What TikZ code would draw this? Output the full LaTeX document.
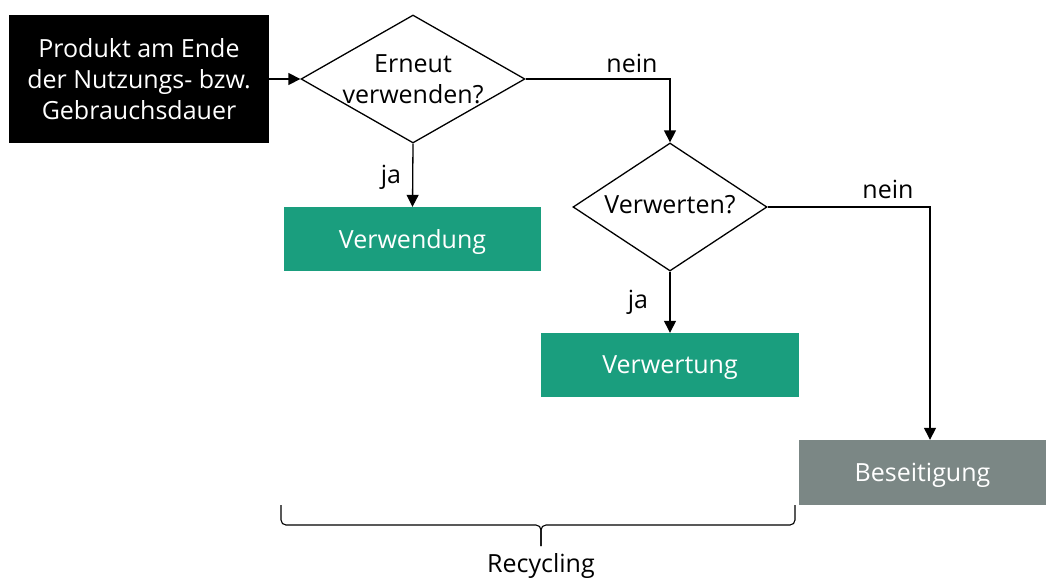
\documentclass[tikz,border=0pt]{standalone}
\usepackage{fontspec}
\setmainfont{Open Sans}
\usetikzlibrary{shapes.geometric,arrows.meta}
\definecolor{teal1}{HTML}{1A9E7E}
\definecolor{gray1}{HTML}{7B8785}
\begin{document}
\begin{tikzpicture}[x=1pt,y=-1pt,
  every node/.style={font=\fontsize{25}{31}\selectfont},
  box/.style={rectangle,inner sep=0pt,text=white,align=center},
  onebox/.style={box,text depth=0pt},
  dia/.style={diamond,draw=black,line width=1.3pt,inner sep=0pt},
  lbl/.style={inner sep=0pt,align=center},
  conn/.style={line width=1.3pt,-{Triangle[length=12pt,width=12pt]}},
  bracestyle/.style={line width=1.1pt,rounded corners=5pt}]
\useasboundingbox (0,0) rectangle (1046,579);
\node[box,fill=black,minimum width=260pt,minimum height=128pt] (start) at (139,79) {Produkt am Ende\\der Nutzungs- bzw.\\Gebrauchsdauer};
\node[dia,minimum width=224pt,minimum height=128pt] (d1) at (413,79) {};
\node[lbl] (d1t) at (413,79) {Erneut\\verwenden?};
\node[onebox,fill=teal1,minimum width=257pt,minimum height=64pt] (verw) at (412.5,239) {Verwendung};
\node[dia,minimum width=194pt,minimum height=128pt] (d2) at (670,207) {};
\node[lbl] (d2t) at (670,205) {Verwerten?};
\node[onebox,fill=teal1,minimum width=258pt,minimum height=64pt] (verwt) at (670,365) {Verwertung};
\node[onebox,fill=gray1,minimum width=247pt,minimum height=65pt] (bes) at (922.5,472.5) {Beseitigung};
\coordinate (c1) at (670,79);
\coordinate (c2) at (930,207);
\draw[conn] (start.east) -- (d1.west);
\draw[conn] (d1.south) -- (verw.north);
\draw[conn] (d1.east) -- (c1) -- (d2.north);
\draw[conn] (d2.south) -- (verwt.north);
\draw[conn] (d2.east) -- (c2) -- (bes.north -| c2);
\node[lbl] (ja1) at (391,177) {ja};
\node[lbl] (nein1) at (632,63) {nein};
\node[lbl] (ja2) at (638,302) {ja};
\node[lbl] (nein2) at (888,189) {nein};
\coordinate (bl) at (281,505);
\coordinate (br) at (795,505);
\coordinate (bm) at (541,525);
\coordinate (bt) at (541,546);
\draw[bracestyle] (bl) -- (bl |- bm) -- (bm) -- (bt);
\draw[bracestyle] (br) -- (br |- bm) -- (bm) -- (bt);
\node[lbl] (rec) at (541,566) {Recycling};
\end{tikzpicture}
\end{document}
